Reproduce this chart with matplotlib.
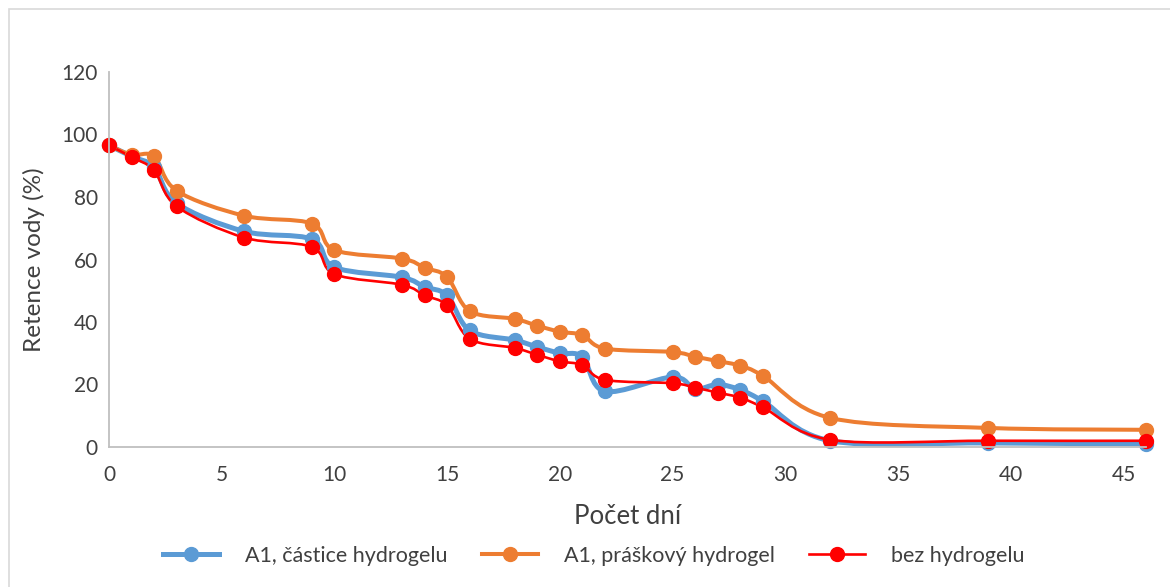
import numpy as np
import matplotlib.pyplot as plt
from matplotlib.path import Path
from matplotlib.patches import PathPatch, Rectangle
from matplotlib.lines import Line2D

plt.rcParams['font.family'] = ['Lato', 'DejaVu Sans']

days = [0, 1, 2, 3, 6, 9, 10, 13, 14, 15, 16, 18, 19, 20, 21, 22, 25, 26, 27, 28, 29, 32, 39, 46]

castice = [96.5, 93.0, 89.5, 78.0, 69.0, 66.5, 57.5, 54.3, 51.2, 48.5, 37.3, 34.2, 32.0, 30.0, 28.8,
           17.8, 22.4, 18.6, 20.0, 18.3, 14.7, 2.0, 1.3, 1.0]
praskovy = [96.5, 93.5, 93.0, 82.0, 74.0, 71.5, 63.0, 60.3, 57.4, 54.4, 43.5, 41.0, 38.8, 36.9, 35.8,
            31.5, 30.4, 28.9, 27.5, 26.0, 22.8, 9.3, 6.1, 5.5]
bez = [96.5, 92.8, 88.5, 77.0, 67.0, 64.0, 55.3, 51.9, 48.5, 45.3, 34.6, 31.7, 29.5, 27.4, 26.2,
       21.5, 20.4, 19.0, 17.4, 15.8, 12.7, 2.3, 2.0, 2.0]

labels = ['A1, částice hydrogelu', 'A1, práškový hydrogel', 'bez hydrogelu']
colors = ['#5B9BD5', '#ED7D31', '#FF0000']
widths = [3.6, 2.9, 1.9]

x_ticks = [0, 5, 10, 15, 20, 25, 30, 35, 40, 45]
y_ticks = [0, 20, 40, 60, 80, 100, 120]


def smooth_path(x, y):
    # Excel-like smoothed line: Catmull-Rom converted to cubic Bezier
    pts = np.column_stack([x, y]).astype(float)
    n = len(pts)
    verts = [pts[0]]
    codes = [Path.MOVETO]
    for i in range(n - 1):
        p0 = pts[max(i - 1, 0)]
        p1 = pts[i]
        p2 = pts[i + 1]
        p3 = pts[min(i + 2, n - 1)]
        c1 = p1 + (p2 - p0) / 6
        c2 = p2 - (p3 - p1) / 6
        verts += [c1, c2, p2]
        codes += [Path.CURVE4] * 3
    return Path(verts, codes)


fig = plt.figure(figsize=(11.7, 5.87), dpi=100)
ax = fig.add_axes([109 / 1170, 1 - 447 / 587, (1146 - 109) / 1170, (447 - 72) / 587])

text_col = '#404040'
handles = []
for ys, col, lw, lab in zip([castice, praskovy, bez], colors, widths, labels):
    ax.add_patch(PathPatch(smooth_path(days, ys), fill=False, edgecolor=col, lw=lw,
                           capstyle='round', joinstyle='round', clip_on=False))
    ax.plot(days, ys, 'o', color=col, markersize=10, clip_on=False)
    handles.append(Line2D([], [], color=col, lw=lw, marker='o', markersize=10, label=lab))

ax.set_xlim(0, 46)
ax.set_ylim(0, 120)
ax.set_xticks(x_ticks)
ax.set_yticks(y_ticks)
ax.tick_params(length=0, labelsize=15, colors=text_col, pad=8)
ax.tick_params(axis='x', pad=13)
for s in ['top', 'right']:
    ax.spines[s].set_visible(False)
for s in ['left', 'bottom']:
    ax.spines[s].set_color('#BFBFBF')
    ax.spines[s].set_linewidth(1.3)

ax.set_xlabel('Počet dní', fontsize=18.5, color=text_col, labelpad=14)
ax.set_ylabel('Retence vody (%)', fontsize=17.5, color=text_col, labelpad=12)

fig.legend(handles=handles, loc='center', bbox_to_anchor=(594 / 1170, 1 - 556 / 587), ncol=3,
           frameon=False, fontsize=15.5, handlelength=2.6, handletextpad=1.2, columnspacing=1.6,
           labelcolor=text_col)

fig.patches.append(Rectangle((9 / 1170, -0.1), 1.2, 1 - 9 / 587 + 0.1, transform=fig.transFigure,
                             fill=False, edgecolor='#D9D9D9', lw=1.2))

fig.savefig('out.png', dpi=100)
